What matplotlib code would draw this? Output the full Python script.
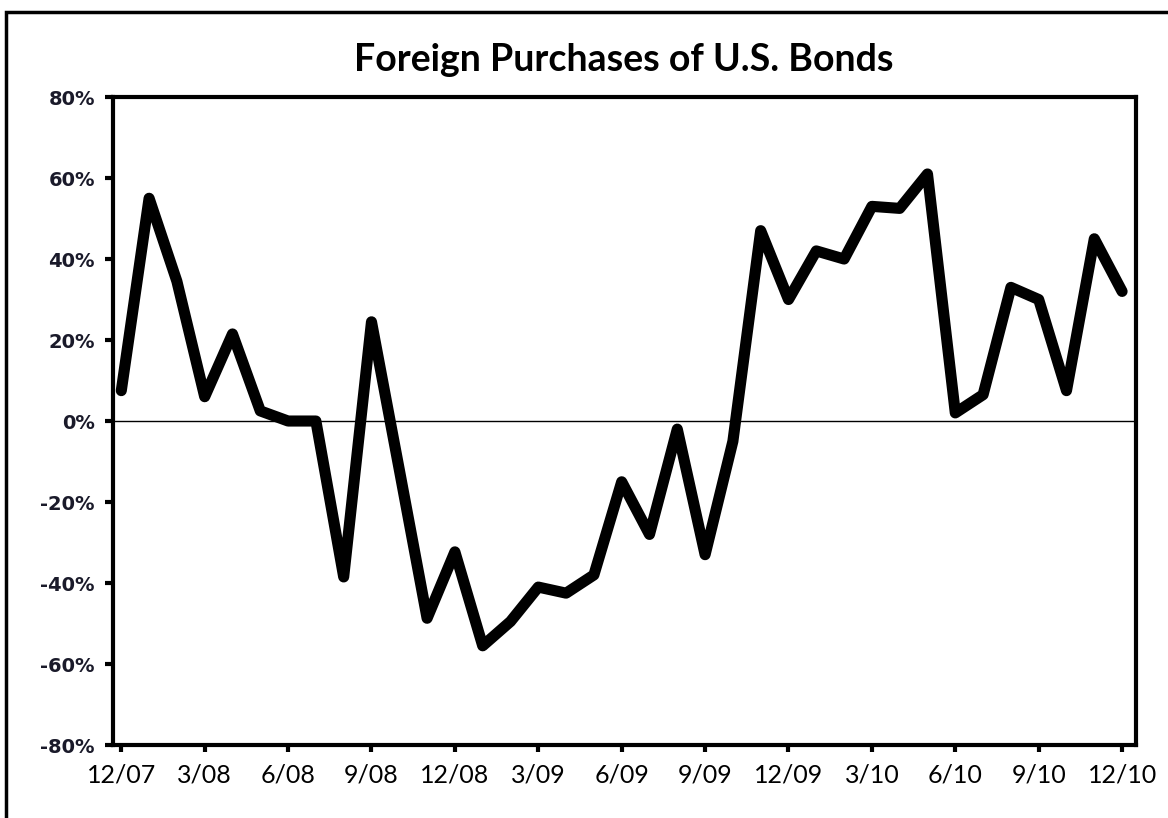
import matplotlib
matplotlib.use("Agg")
import matplotlib.pyplot as plt
import numpy as np
from matplotlib.patches import Rectangle
from matplotlib.ticker import FuncFormatter

# Monthly values, 12/07 .. 12/10 (percent)
values = [7.5, 55, 34.5, 6, 21.5, 2.5, 0, 0, -38.5, 24.5, -12, -48.7,
          -32.3, -55.5, -49.5, -41, -42.5, -38, -15, -28, -2, -33,
          -5, 47, 30, 42, 40, 53, 52.5, 61, 2, 6.5, 33, 30, 7.5, 45, 32]
tick_labels = ["12/07", "3/08", "6/08", "9/08", "12/08", "3/09", "6/09",
               "9/09", "12/09", "3/10", "6/10", "9/10", "12/10"]
y_ticks = [-80, -60, -40, -20, 0, 20, 40, 60, 80]

x = np.arange(len(values))

fig = plt.figure(figsize=(11.68, 8.18), dpi=100)
ax = fig.add_axes([0.0967, 0.0892, 0.8759, 0.7922])

# zero line
ax.axhline(0, color="black", linewidth=1)
ax.plot(x, values, color="black", linewidth=8, solid_joinstyle="round",
        solid_capstyle="round", zorder=3)

ax.set_xlim(-0.3, 36.5)
ax.set_ylim(-80, 80)
ax.set_xticks(np.arange(0, len(values), 3))
ax.set_xticklabels(tick_labels, family="Lato", fontsize=18)
ax.set_yticks(y_ticks)
ax.yaxis.set_major_formatter(FuncFormatter(lambda v, p: "%d%%" % v))
for lab in ax.get_yticklabels():
    lab.set_family("DejaVu Sans")
    lab.set_fontweight("bold")
    lab.set_fontsize(14)
    lab.set_color("#1a1a2a")
ax.tick_params(axis="y", length=6, width=3, pad=7)
ax.tick_params(axis="x", length=5, width=3, pad=8)

for s in ax.spines.values():
    s.set_linewidth(3)

fig.text(0.534, 0.927, "Foreign Purchases of U.S. Bonds", ha="center", va="center",
         family="Lato", fontweight="bold", fontsize=27)

# outer frame (clipped at right and bottom)
fig.patches.append(Rectangle((0.005, -0.2), 1.2, 1.2 - 12 / 818, transform=fig.transFigure,
                             fill=False, edgecolor="black", linewidth=2.5))

fig.savefig("out.png", dpi=100)
